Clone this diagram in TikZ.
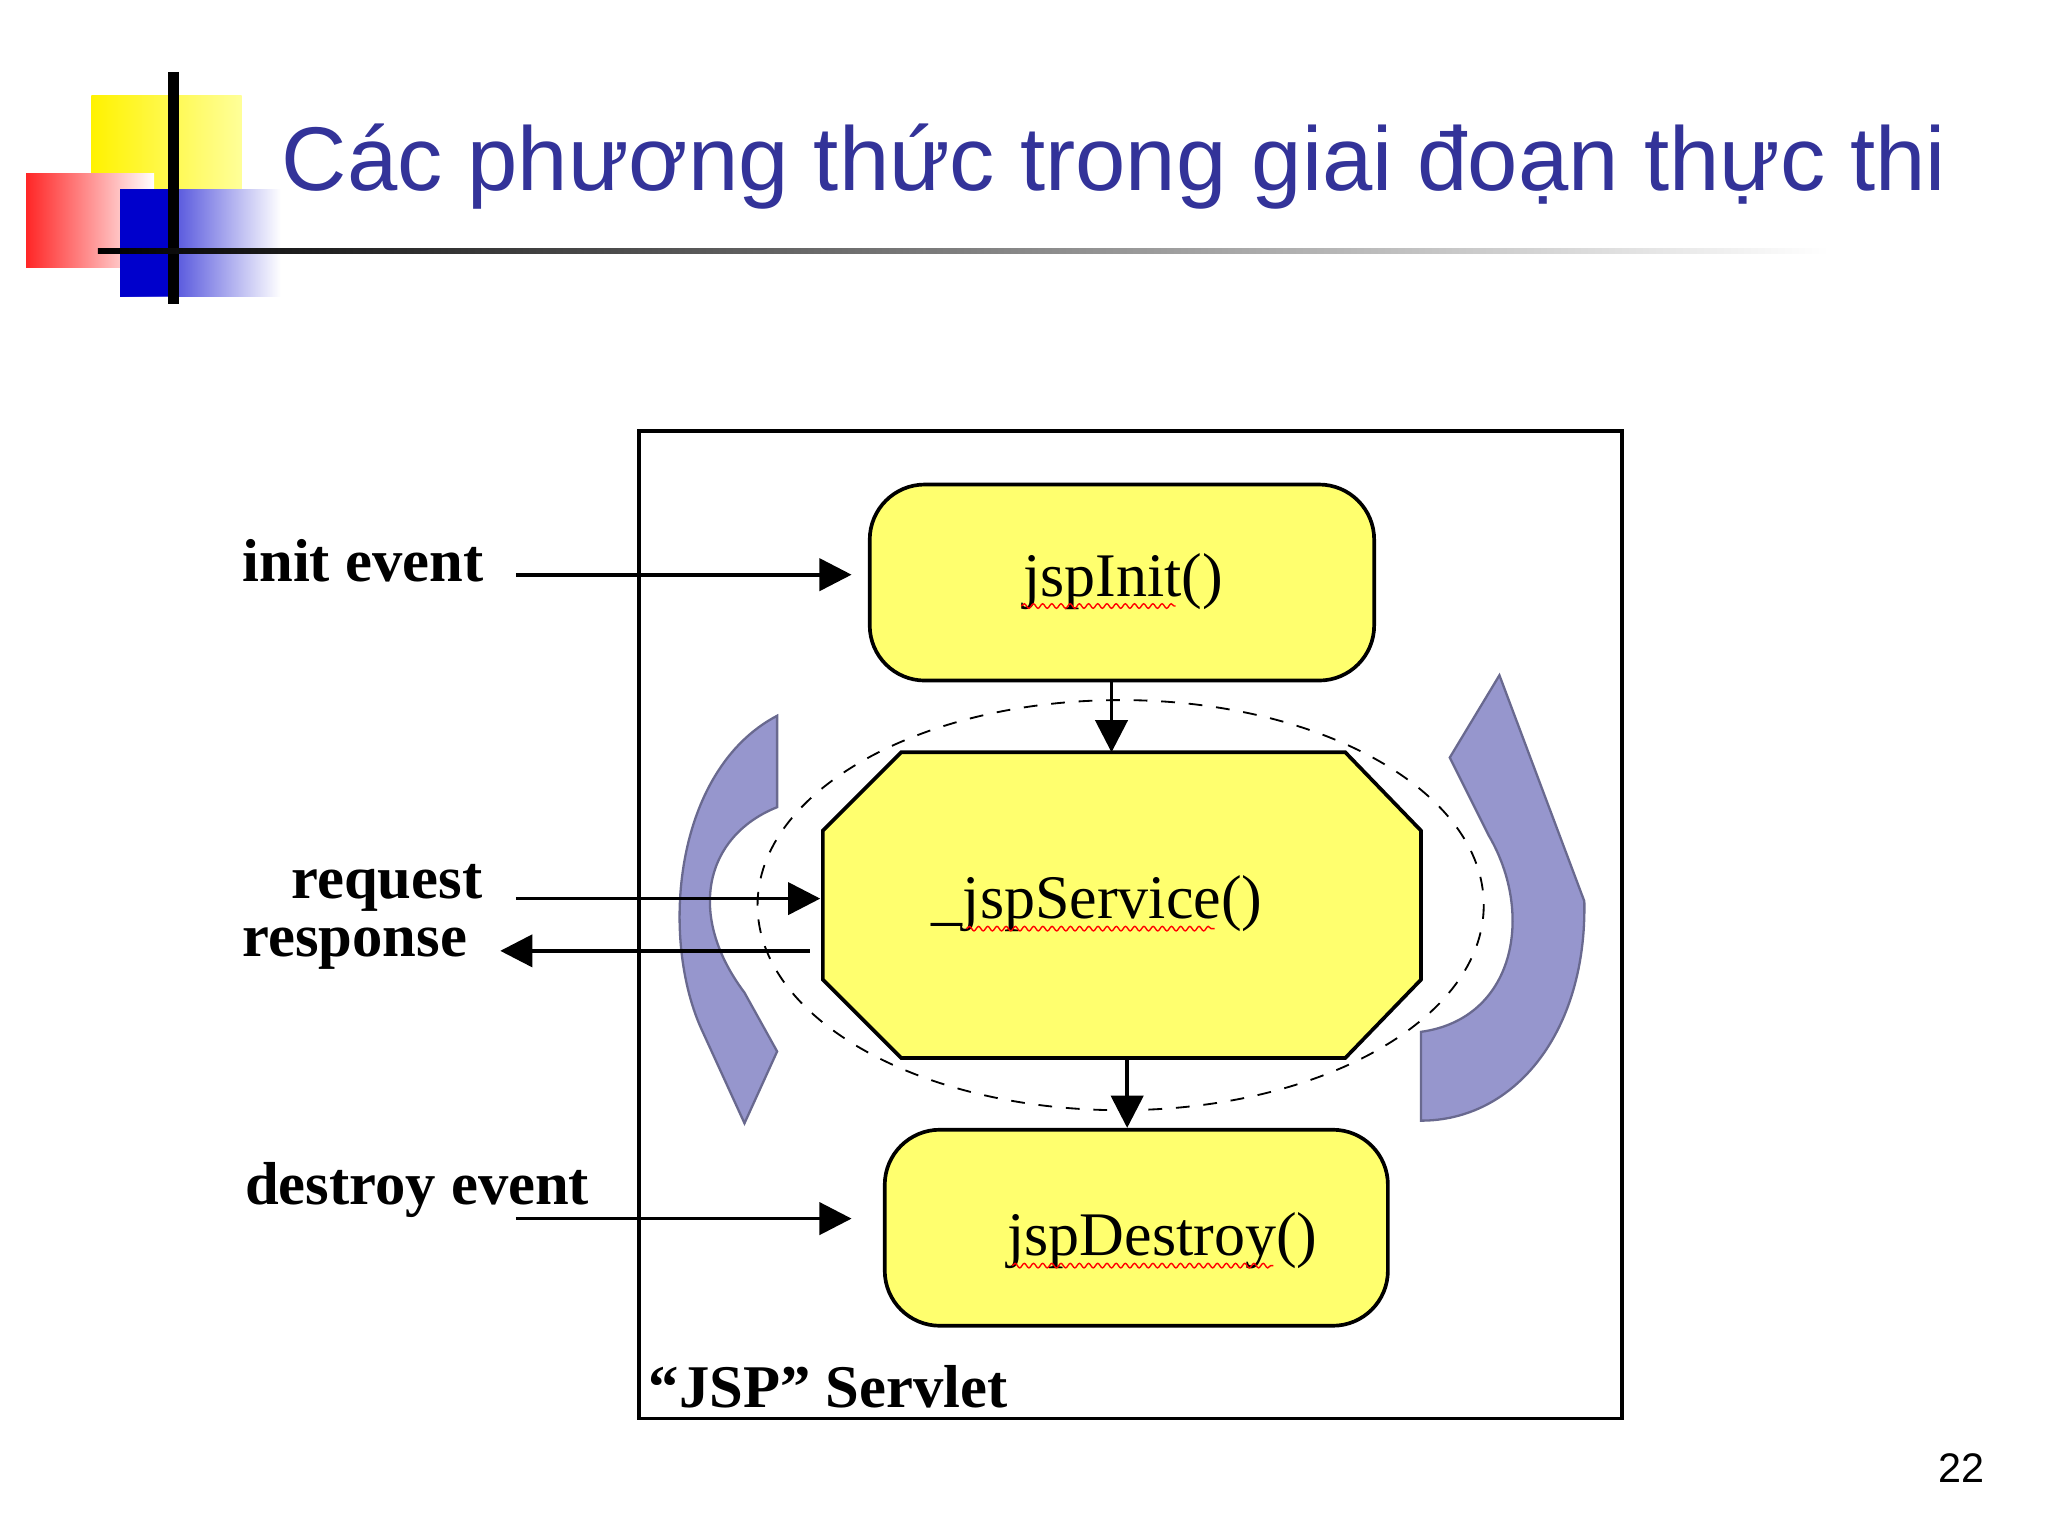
\documentclass[tikz,border=0pt]{standalone}
\usepackage{fontspec}
\setmainfont{Liberation Serif}
\newfontfamily\titlefont{Liberation Sans}
\usetikzlibrary{decorations.pathmorphing,arrows.meta,shapes.geometric}
\definecolor{titleblue}{RGB}{51,51,153}
\definecolor{boxyellow}{RGB}{255,255,110}
\definecolor{arrowblue}{RGB}{150,150,205}
\tikzset{
  yb/.style={draw=black,thick,fill=boxyellow,rounded corners=12pt},
  lbl/.style={font=\bfseries\fontsize{13.2}{13}\selectfont,inner sep=0pt},
  btxt/.style={font=\fontsize{13.5}{14}\selectfont,inner sep=0pt},
  con/.style={thick,-{Triangle[length=7pt,width=7pt]}},
  wavy/.style={red,decorate,decoration={snake,amplitude=0.5pt,segment length=2pt},line width=0.3pt},
  curv/.style={fill=arrowblue,draw=arrowblue!70!black,line width=0.5pt}
}
\begin{document}
\begin{tikzpicture}[x=0.01cm,y=-0.01cm]
\useasboundingbox (0,0) rectangle (1568,1176);
% logo
\shade[left color=yellow!90!orange,right color=yellow!40] (70,73) rectangle (185,150);
\shade[left color=red!85,right color=white] (20,133) rectangle (118,205);
\shade[left color=blue!80!black,right color=white] (92,145) rectangle (215,227);
\fill[blue!80!black] (92,145) rectangle (135,227);
\draw[line width=2.5pt] (133,55) -- (133,233);
\shade[left color=black,right color=white] (75,190) rectangle (1400,194);
\node[anchor=base west,inner sep=0pt,text=titleblue,font=\titlefont\fontsize{19.7}{21}\selectfont] (title) at (215,146) {Các phương thức trong giai đoạn thực thi};
\node[anchor=base,inner sep=0pt,font=\titlefont\fontsize{9}{10}\selectfont] (pg) at (1502,1135) {22};
% outer box
\draw[thick] (489,330) rectangle (1242,1086);
% curved arrows
\path[curv] (595,548) -- (595,618) .. controls (540,640) and (525,700) .. (570,760) -- (595,805) -- (570,860) -- (538,790) .. controls (505,720) and (515,590) .. (595,548) -- cycle;
\path[curv] (1148,517) -- (1213,690) .. controls (1215,790) and (1160,858) .. (1088,858) -- (1088,790) .. controls (1160,780) and (1175,700) .. (1140,640) -- (1110,580) -- cycle;
% ellipse
\draw[dashed] (858,693) ellipse [x radius=278,y radius=157];
% boxes
\node[yb,minimum width=3.86cm,minimum height=1.5cm] (init) at (859,446) {};
\node[btxt] (initt) at (860,445) {jspInit()};
\draw[wavy] (782,464) -- (900,464);
\path[draw=black,thick,fill=boxyellow] (690,576) -- (1030,576) -- (1088,636) -- (1088,750) -- (1030,810) -- (690,810) -- (630,750) -- (630,636) -- cycle;
\coordinate (svctop) at (851,576);
\coordinate (svcbot) at (863,810);
\node[btxt] (svc) at (840,692) {\_jspService()};
\draw[wavy] (740,711) -- (930,711);
\node[yb,minimum width=3.85cm,minimum height=1.5cm] (dest) at (870,940) {};
\node[btxt] (destt) at (890,950) {jspDestroy()};
\draw[wavy] (775,969) -- (975,969);
% labels
\node[lbl,anchor=base west] (ie) at (185,445) {init event};
\node[lbl,anchor=base east] (req) at (370,688) {request};
\node[lbl,anchor=base west] (resp) at (185,732) {response};
\node[lbl,anchor=base west] (de) at (187,922) {destroy event};
\node[lbl,anchor=base west] (js) at (496,1078) {“JSP” Servlet};
% connectors
\coordinate (a1) at (395,440); \coordinate (b1) at (652,440);
\draw[con] (a1) -- (b1);
\coordinate (a2) at (395,688); \coordinate (b2) at (628,688);
\draw[con] (a2) -- (b2);
\coordinate (a3) at (620,728); \coordinate (b3) at (383,728);
\draw[con] (a3) -- (b3);
\coordinate (a4) at (395,933); \coordinate (b4) at (652,933);
\draw[con] (a4) -- (b4);
\draw[con] (init.south -| svctop) -- (svctop);
\draw[con] (svcbot) -- (svcbot |- dest.north);
\end{tikzpicture}
\end{document}
